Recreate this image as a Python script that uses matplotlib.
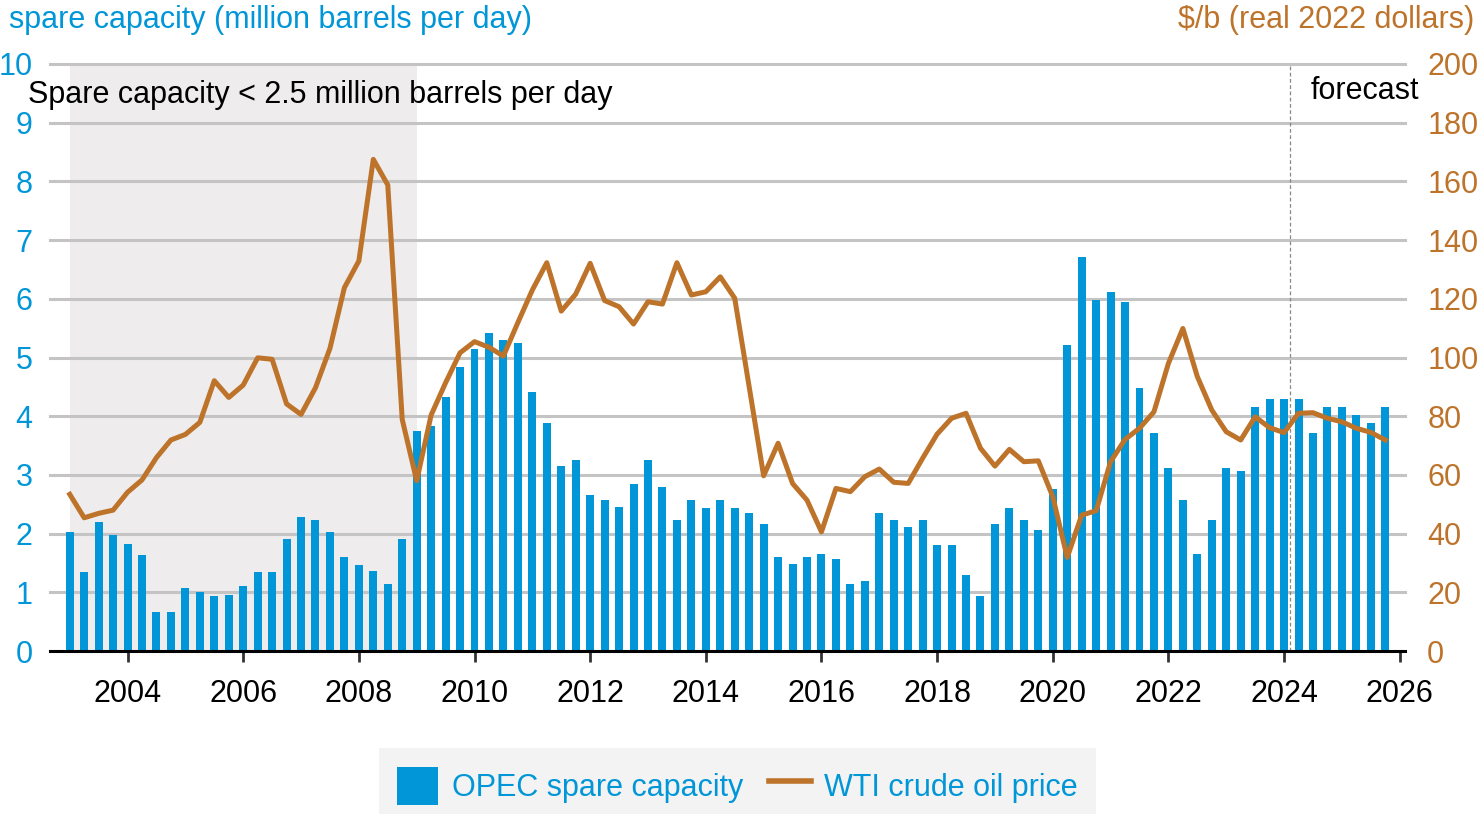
import numpy as np
import matplotlib
matplotlib.use("Agg")
import matplotlib.pyplot as plt
from matplotlib.patches import Patch
from matplotlib.lines import Line2D

plt.rcParams['font.family'] = ['Liberation Sans', 'DejaVu Sans']

# quarterly data, 2003Q1 .. 2025Q4
years = list(range(2003, 2026))
quarters = [1, 2, 3, 4]

spare_capacity = [
    2.02, 1.34, 2.19, 1.97,
    1.83, 1.64, 0.66, 0.66,
    1.07, 1.01, 0.93, 0.96,
    1.10, 1.34, 1.34, 1.91,
    2.29, 2.24, 2.02, 1.61,
    1.47, 1.37, 1.15, 1.91,
    3.74, 3.84, 4.33, 4.83,
    5.15, 5.42, 5.29, 5.25,
    4.42, 3.88, 3.16, 3.25,
    2.65, 2.57, 2.46, 2.84,
    3.25, 2.79, 2.24, 2.57,
    2.43, 2.57, 2.43, 2.35,
    2.16, 1.61, 1.48, 1.61,
    1.65, 1.56, 1.15, 1.20,
    2.35, 2.24, 2.11, 2.24,
    1.80, 1.80, 1.29, 0.93,
    2.16, 2.43, 2.24, 2.07,
    2.76, 5.21, 6.71, 5.98,
    6.11, 5.94, 4.48, 3.71,
    3.11, 2.57, 1.65, 2.24,
    3.11, 3.06, 4.15, 4.29,
    4.29, 4.29, 3.71, 4.15,
    4.15, 4.02, 3.88, 4.15,
]

wti_price = [
    53.4, 45.4, 46.9, 48.0,
    54.1, 58.3, 65.9, 71.9,
    73.8, 77.9, 92.1, 86.4,
    90.6, 99.9, 99.4, 84.2,
    80.6, 89.7, 103.1, 123.8,
    132.9, 167.5, 158.8, 78.9,
    58.0, 80.4, 91.4, 101.6,
    105.4, 103.5, 100.5, 111.9,
    123.0, 132.3, 115.8, 121.6,
    132.1, 119.4, 117.3, 111.4,
    119.0, 118.2, 132.3, 121.3,
    122.4, 127.5, 120.2, 90.0,
    59.7, 70.8, 57.1, 51.4,
    40.6, 55.4, 54.3, 59.4,
    62.0, 57.5, 57.1, 65.7,
    73.9, 79.3, 81.0, 69.1,
    63.0, 68.7, 64.5, 64.8,
    52.6, 31.9, 46.3, 47.8,
    64.5, 72.1, 75.9, 81.5,
    98.0, 109.9, 93.5, 82.1,
    74.7, 71.9, 79.8, 76.1,
    74.4, 81.0, 81.2, 79.3,
    78.1, 75.9, 74.5, 71.9,
]

low_spare_period = (2003.0, 2009.0)
forecast_start = 2024.1
xtick_years = list(range(2004, 2027, 2))
left_ticks = list(range(0, 11))
right_ticks = list(range(0, 201, 20))

blue = '#0096d7'
brown = '#bd732a'
grid_col = '#c4c4c4'

x = np.array([y + (q - 1) / 4 for y in years for q in quarters])

fig = plt.figure(figsize=(14.77, 8.14), dpi=100)
ax = fig.add_axes([0.0339, 0.2002, 0.9173, 0.7212])
ax2 = ax.twinx()

ax.axvspan(*low_spare_period, color='#eeeced', zorder=0, lw=0)
for t in left_ticks[1:]:
    ax.axhline(t, color=grid_col, lw=2.2, zorder=1, clip_on=False)
ax.bar(x, spare_capacity, width=0.138, color=blue, zorder=2)
ax.axvline(forecast_start, color='#888888', ls=(0, (3, 2)), lw=0.9, zorder=3)

ax2.plot(x, wti_price, color=brown, lw=3.6, solid_joinstyle='round', zorder=4)

ax.set_xlim(2002.66, 2026.09)
ax.set_ylim(0, 10)
ax2.set_ylim(0, 200)

for a in (ax, ax2):
    for s in ['top', 'right', 'left']:
        a.spines[s].set_visible(False)
ax2.spines['bottom'].set_visible(False)
ax.spines['bottom'].set_linewidth(2.2)
ax.spines['bottom'].set_color('black')
ax.spines['bottom'].set_zorder(5)

ax.set_xticks(xtick_years)
ax.tick_params(axis='x', direction='out', length=8, width=2, color='#333333',
               labelsize=22, pad=12)
ax.set_yticks(left_ticks)
ax.tick_params(axis='y', length=0, labelsize=22, labelcolor=blue, pad=12.5)
ax2.set_yticks(right_ticks)
ax2.tick_params(axis='y', length=0, labelsize=22, labelcolor=brown, pad=16)

ax.text(2002.27, 9.47, 'Spare capacity < 2.5 million barrels per day',
        fontsize=22, color='black', va='center', ha='left', zorder=6,
        clip_on=False)
ax.text(2026.34, 9.54, 'forecast', fontsize=22, color='black',
        va='center', ha='right', zorder=6, clip_on=False)

fig.text(0.006, 0.975, 'spare capacity (million barrels per day)',
         fontsize=22, color=blue, va='center', ha='left')
fig.text(0.998, 0.975, '$/b (real 2022 dollars)',
         fontsize=22, color=brown, va='center', ha='right')

handles = [Patch(facecolor=blue, edgecolor='none'),
           Line2D([0], [0], color=brown, lw=4)]
leg = fig.legend(handles, ['OPEC spare capacity', 'WTI crude oil price'],
                 loc='lower center', bbox_to_anchor=(0.4993, -0.03), ncol=2,
                 fontsize=22, frameon=True, fancybox=False,
                 handlelength=1.35, handleheight=1.55, handletextpad=0.45,
                 columnspacing=0.85, borderpad=0.6)
leg.get_frame().set_facecolor('#f0f0f0')
leg.get_frame().set_edgecolor('none')
for t in leg.get_texts():
    t.set_color(blue)

fig.savefig('out.png', dpi=100)
